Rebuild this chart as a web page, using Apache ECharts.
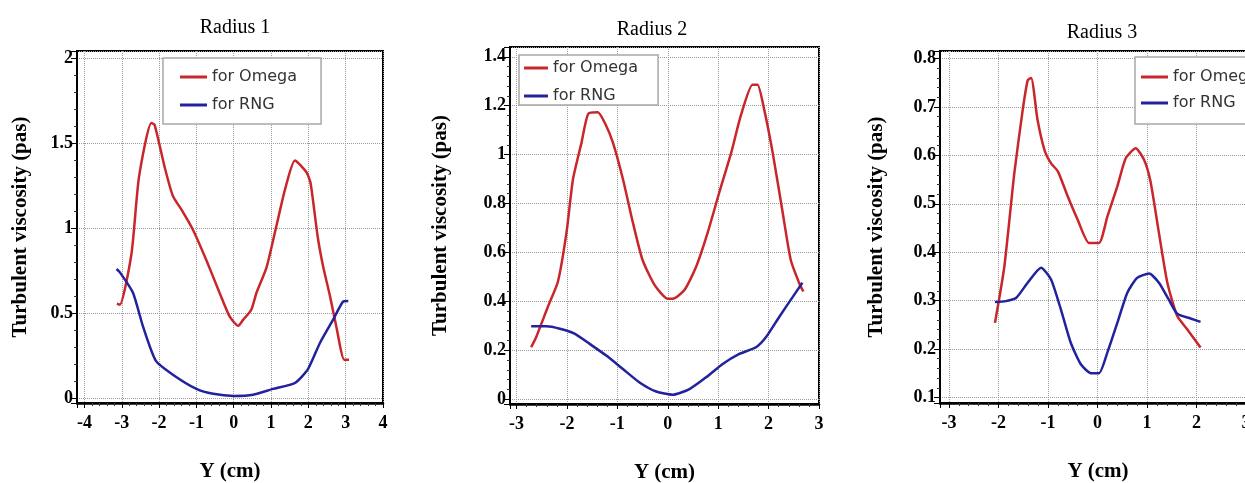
<!DOCTYPE html>
<html>
<head>
<meta charset="utf-8">
<script src="https://cdn.jsdelivr.net/npm/echarts@6/dist/echarts.min.js"></script>
<style>
html, body { margin: 0; padding: 0; background: #fff; }
#chart { width: 1245px; height: 483px; }
</style>
</head>
<body>
<div id="chart"></div>
<script>
// values, [Y (cm), viscosity]
const radius1Omega = [[-3.13, 0.555], [-3.05, 0.55], [-2.74, 0.85], [-2.54, 1.30], [-2.21, 1.62], [-2.12, 1.61], [-1.85, 1.36], [-1.63, 1.19], [-1.40, 1.11], [-1.09, 0.99], [-0.73, 0.81], [-0.38, 0.62], [-0.11, 0.48], [0.12, 0.425], [0.25, 0.46], [0.47, 0.52], [0.61, 0.62], [0.88, 0.77], [1.14, 1.01], [1.37, 1.225], [1.64, 1.40], [1.95, 1.33], [2.06, 1.265], [2.25, 0.95], [2.40, 0.77], [2.58, 0.60], [2.75, 0.42], [2.96, 0.225], [3.09, 0.225]];
const radius1RNG = [[-3.14, 0.76], [-3.05, 0.74], [-2.70, 0.62], [-2.43, 0.42], [-2.09, 0.22], [-1.63, 0.137], [-1.0, 0.053], [-0.55, 0.024], [0, 0.012], [0.52, 0.019], [1.05, 0.053], [1.64, 0.088], [1.99, 0.17], [2.31, 0.324], [2.66, 0.46], [2.93, 0.568], [3.07, 0.572]];
const radius2Omega = [[-2.71, 0.212], [-2.61, 0.254], [-2.38, 0.377], [-2.18, 0.48], [-2.01, 0.68], [-1.88, 0.9], [-1.71, 1.05], [-1.58, 1.166], [-1.39, 1.173], [-1.25, 1.13], [-1.09, 1.05], [-0.89, 0.9], [-0.69, 0.72], [-0.50, 0.569], [-0.26, 0.466], [0.0, 0.41], [0.1, 0.41], [0.33, 0.446], [0.56, 0.54], [0.79, 0.68], [1.02, 0.844], [1.26, 1.009], [1.45, 1.16], [1.68, 1.286], [1.78, 1.286], [1.91, 1.187], [2.08, 1.009], [2.28, 0.762], [2.44, 0.569], [2.61, 0.473], [2.69, 0.44]];
const radius2RNG = [[-2.71, 0.298], [-2.41, 0.298], [-2.14, 0.288], [-1.85, 0.268], [-1.55, 0.226], [-1.22, 0.178], [-0.89, 0.123], [-0.56, 0.068], [-0.23, 0.031], [0.1, 0.018], [0.43, 0.041], [0.76, 0.089], [1.09, 0.144], [1.42, 0.185], [1.75, 0.212], [1.95, 0.254], [2.21, 0.336], [2.48, 0.418], [2.67, 0.476]];
const radius3Omega = [[-2.07, 0.254], [-1.88, 0.371], [-1.68, 0.563], [-1.51, 0.694], [-1.41, 0.755], [-1.34, 0.76], [-1.21, 0.673], [-1.07, 0.611], [-0.94, 0.584], [-0.80, 0.567], [-0.60, 0.515], [-0.40, 0.467], [-0.17, 0.419], [0.03, 0.419], [0.2, 0.474], [0.40, 0.536], [0.57, 0.594], [0.77, 0.615], [0.94, 0.591], [1.07, 0.546], [1.24, 0.44], [1.41, 0.337], [1.61, 0.268], [1.81, 0.241], [2.08, 0.203]];
const radius3RNG = [[-2.07, 0.297], [-1.85, 0.299], [-1.64, 0.306], [-1.41, 0.337], [-1.14, 0.368], [-0.94, 0.344], [-0.74, 0.282], [-0.54, 0.213], [-0.34, 0.169], [-0.13, 0.15], [0.03, 0.15], [0.2, 0.193], [0.40, 0.254], [0.60, 0.316], [0.80, 0.347], [1.04, 0.356], [1.24, 0.337], [1.44, 0.302], [1.61, 0.273], [1.88, 0.263], [2.08, 0.256]];

const titles = ['Radius 1', 'Radius 2', 'Radius 3'];
const seriesNames = ['for Omega', 'for RNG'];
const xName = 'Y (cm)';
const yName = 'Turbulent viscosity (pas)';

const serif = '"Liberation Serif", "Times New Roman", serif';
const red = '#c9262b';
const blue = '#22229e';

// layout of each panel
let panels = [
	{
		omega: radius1Omega, rng: radius1RNG,
		grid: { left: 77, top: 51, width: 306, height: 352 },
		x: { min: -4.2, max: 4, split: 8, showMax: true },
		y: { min: -0.03, max: 2.045, split: 5 },
		yGap: 46, titleX: 230, titleY: 13,
		legend: { left: 163, top: 58, padding: [11, 24, 11, 17], itemWidth: 27, itemGap: 12 }
	},
	{
		omega: radius2Omega, rng: radius2RNG,
		grid: { left: 510, top: 47, width: 309, height: 357 },
		x: { min: -3.13, max: 3, split: 6, showMax: true },
		y: { min: -0.02, max: 1.44, split: 7 },
		yGap: 59, titleX: 647, titleY: 15,
		legend: { left: 519, top: 55, padding: [5, 20, 1, 5], itemWidth: 24, itemGap: 12 }
	},
	{
		omega: radius3Omega, rng: radius3RNG,
		grid: { left: 940, top: 51, width: 316, height: 352 },
		x: { min: -3.18, max: 3.2, split: 6, showMax: false },
		y: { min: 0.0885, max: 0.8157, split: 5 },
		yGap: 53, titleX: 1097, titleY: 18,
		legend: { left: 1135, top: 57, padding: [12, 40, 13, 6], itemWidth: 27, itemGap: 10 }
	}
];

let tickText = { fontFamily: serif, fontWeight: 'bold', fontSize: 18, color: '#000' };
let nameText = { fontFamily: serif, fontWeight: 'bold', fontSize: 21, color: '#000' };

let option = {
	animation: false,
	backgroundColor: '#fff',
	title: [],
	legend: [],
	grid: [],
	xAxis: [],
	yAxis: [],
	series: []
};

panels.forEach((p, i) => {
	option.title.push({
		text: titles[i],
		left: p.titleX,
		top: p.titleY,
		textAlign: 'center',
		textStyle: { fontFamily: serif, fontWeight: 'normal', fontSize: 20, color: '#000' }
	});
	option.grid.push(Object.assign({
		show: true,
		borderColor: '#000',
		borderWidth: 2,
		backgroundColor: '#fff',
		outerBoundsMode: 'none'
	}, p.grid));
	option.xAxis.push({
		gridIndex: i,
		type: 'value',
		min: p.x.min,
		max: p.x.max,
		splitNumber: p.x.split,
		name: xName,
		nameLocation: 'middle',
		nameGap: 58,
		nameTextStyle: nameText,
		axisLine: { show: true, onZero: false, lineStyle: { color: '#000', width: 2.5 } },
		axisTick: { show: true, length: 5, lineStyle: { color: '#000' } },
		minorTick: { show: true, splitNumber: 5, length: 3, lineStyle: { color: '#333' } },
		axisLabel: Object.assign({ showMinLabel: false, showMaxLabel: p.x.showMax, margin: 11 }, tickText),
		splitLine: { show: true, lineStyle: { type: 'dotted', color: '#9a9a9a' } }
	});
	option.yAxis.push({
		gridIndex: i,
		type: 'value',
		min: p.y.min,
		max: p.y.max,
		splitNumber: p.y.split,
		name: yName,
		nameLocation: 'middle',
		nameGap: p.yGap,
		nameTextStyle: nameText,
		axisLine: { show: true, onZero: false, lineStyle: { color: '#000', width: 2 } },
		axisTick: { show: true, length: 6, lineStyle: { color: '#000' } },
		minorTick: { show: true, splitNumber: 5, length: 3, lineStyle: { color: '#333' } },
		axisLabel: Object.assign({ showMinLabel: false, showMaxLabel: false, margin: 4 }, tickText),
		splitLine: { show: true, lineStyle: { type: 'dotted', color: '#9a9a9a' } }
	});
	option.legend.push({
		orient: 'vertical',
		left: p.legend.left,
		top: p.legend.top,
		padding: p.legend.padding,
		icon: 'rect',
		itemWidth: p.legend.itemWidth,
		itemHeight: 3,
		itemGap: p.legend.itemGap,
		backgroundColor: '#fff',
		borderColor: '#a8a8a8',
		borderWidth: 1.5,
		borderRadius: 0,
		selectedMode: false,
		data: seriesNames,
		textStyle: { fontFamily: '"DejaVu Sans", Verdana, sans-serif', fontSize: 16, color: '#333', lineHeight: 16 }
	});
	[[seriesNames[0], p.omega, red], [seriesNames[1], p.rng, blue]].forEach(([name, data, color]) => {
		option.series.push({
			name: name,
			type: 'line',
			xAxisIndex: i,
			yAxisIndex: i,
			data: data,
			smooth: 0.2,
			symbol: 'none',
			color: color,
			lineStyle: { color: color, width: 2.5 }
		});
	});
});

let chart = echarts.init(document.getElementById('chart'), null, { renderer: 'canvas' });
chart.setOption(option);
</script>
</body>
</html>
